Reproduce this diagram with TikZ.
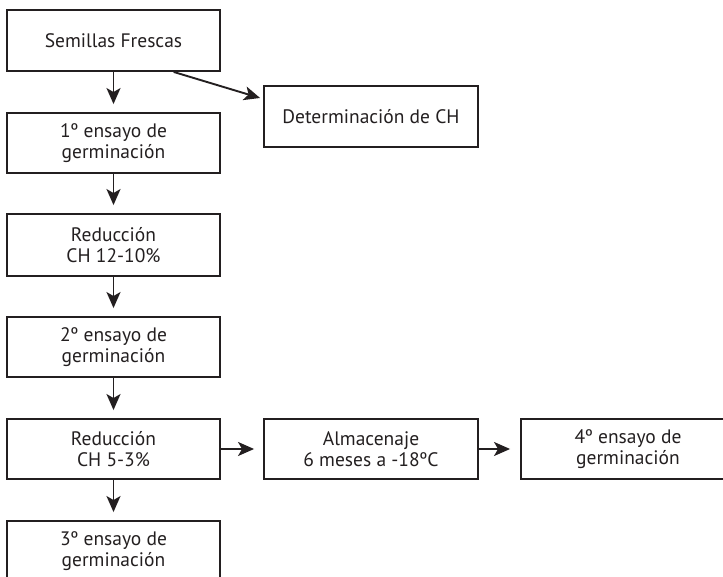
\documentclass[tikz,border=0pt]{standalone}
\usepackage{fontspec}
\setmainfont{PT Sans}
\usetikzlibrary{arrows.meta,calc}
\definecolor{ink}{HTML}{231F20}
\begin{document}
\begin{tikzpicture}[x=1pt,y=-1pt,
  box/.style={draw=ink,line width=1.9pt,minimum width=213pt,minimum height=60pt,
    inner sep=0pt,align=center,font=\fontsize{19.5}{21}\selectfont,text=ink},
  conn/.style={draw=ink,line width=1.9pt,-{Stealth[length=16pt,width=14pt,inset=4pt]}}]
\useasboundingbox (0,0) rectangle (723,577);
\clip (0,0) rectangle (723,577);
\node[box,minimum height=61pt] (b1) at (113.5,40.5) {Semillas Frescas};
\node[box] (b2) at (113.5,143) {1º ensayo de\\germinación};
\node[box,minimum height=62pt] (b3) at (113.5,245) {Reducción\\CH 12-10\%};
\node[box] (b4) at (113.5,347) {2º ensayo de\\germinación};
\node[box] (b5) at (113.5,449) {Reducción\\CH 5-3\%};
\node[box] (b6) at (113.5,551) {3º ensayo de\\germinación};
\node[box,minimum width=214pt,minimum height=61pt] (det) at (371,116.5) {Determinación de CH};
\node[box,minimum width=214pt] (alm) at (371,449) {Almacenaje\\6 meses a -18ºC};
\node[box,minimum width=214pt] (g4) at (628,449) {4º ensayo de\\germinación};
\coordinate (s1) at ($(b1.south west)!0.78!(b1.south east)$);
\coordinate (t1) at ($(det.west)+(-3,-18.5)$);
\draw[conn] (s1) -- (t1);
\draw[conn,shorten >=8pt] (b1) -- (b2);
\draw[conn,shorten >=8pt] (b2) -- (b3);
\draw[conn,shorten >=8pt] (b3) -- (b4);
\draw[conn,shorten >=8pt] (b4) -- (b5);
\draw[conn,shorten >=8pt] (b5) -- (b6);
\draw[conn,shorten >=9pt] (b5) -- (alm);
\draw[conn,shorten >=10pt] (alm) -- (g4);
\end{tikzpicture}
\end{document}
